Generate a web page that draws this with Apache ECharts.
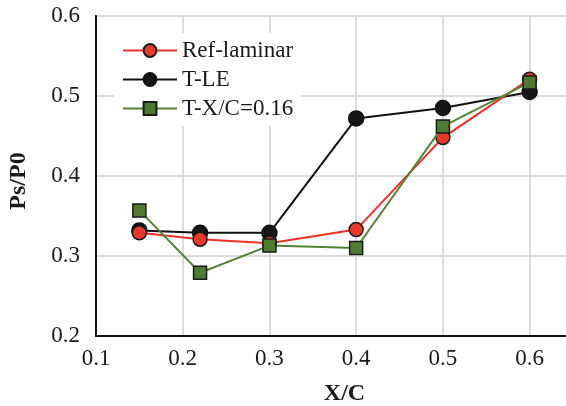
<!DOCTYPE html>
<html>
<head>
<meta charset="utf-8">
<script src="https://cdn.jsdelivr.net/npm/echarts@6/dist/echarts.min.js"></script>
<style>
	html, body { margin: 0; padding: 0; background: #fff; }
	#chart { width: 566px; height: 406px; }
</style>
</head>
<body>
<div id="chart"></div>
<script>
// data
var seriesNames = ['Ref-laminar', 'T-LE', 'T-X/C=0.16'];
var xRef = [0.15, 0.22, 0.30, 0.40, 0.50, 0.60];
var refLaminar = [0.329, 0.321, 0.316, 0.333, 0.448, 0.521];
var tLE = [0.332, 0.329, 0.329, 0.472, 0.485, 0.505];
var tXC = [0.357, 0.279, 0.313, 0.310, 0.462, 0.517];
var xTicks = [0.1, 0.2, 0.3, 0.4, 0.5, 0.6];
var yTicks = [0.2, 0.3, 0.4, 0.5, 0.6];

function pairs(xs, ys) {
	return xs.map(function (x, i) { return [x, ys[i]]; });
}

function tickText(list) {
	return function (v) {
		var t = list.find(function (k) { return Math.abs(k - v) < 1e-6; });
		return t === undefined ? '' : t.toFixed(1);
	};
}

var font = 'Liberation Serif';
var myChart = echarts.init(document.getElementById('chart'));

var option = {
	animation: false,
	textStyle: { fontFamily: font },
	grid: {
		left: 96,
		top: 16,
		width: 477,
		bottom: 70,
		outerBoundsMode: 'none',
		containLabel: false,
		show: true,
		borderColor: '#111',
		borderWidth: 2
	},
	legend: {
		left: 114,
		top: 33,
		orient: 'vertical',
		backgroundColor: '#fff',
		padding: [6, 8, 6, 8],
		itemGap: 6,
		itemWidth: 54,
		itemHeight: 16,
		textStyle: { fontFamily: font, fontSize: 23, color: '#1a1a1a' },
		data: seriesNames
	},
	xAxis: {
		type: 'value',
		min: 0.1,
		max: 0.65,
		interval: 0.1,
		name: 'X/C',
		nameLocation: 'middle',
		nameGap: 46,
		nameTextStyle: { fontFamily: font, fontSize: 24, fontWeight: 'bold', color: '#1a1a1a', padding: [0, 0, 0, 20] },
		axisLine: { lineStyle: { color: '#111', width: 2 } },
		axisTick: { show: false },
		axisLabel: {
			margin: 11,
			fontFamily: font,
			fontSize: 23,
			color: '#1a1a1a',
			formatter: tickText(xTicks)
		},
		splitLine: { lineStyle: { color: '#dcdcdc', width: 2 } }
	},
	yAxis: {
		type: 'value',
		min: 0.2,
		max: 0.6,
		interval: 0.1,
		name: 'Ps/P0',
		nameLocation: 'middle',
		nameGap: 65,
		nameTextStyle: { fontFamily: font, fontSize: 24, fontWeight: 'bold', color: '#1a1a1a', padding: [0, 10, 0, 0] },
		axisLine: { show: true, lineStyle: { color: '#111', width: 2 } },
		axisTick: { show: false },
		axisLabel: {
			margin: 16,
			fontFamily: font,
			fontSize: 23,
			color: '#1a1a1a',
			formatter: tickText(yTicks)
		},
		splitLine: { lineStyle: { color: '#dcdcdc', width: 2 } }
	},
	series: [{
			name: seriesNames[0],
			type: 'line',
			data: pairs(xRef, refLaminar),
			symbol: 'circle',
			symbolSize: 14,
			z: 3,
			lineStyle: { color: '#ee3124', width: 2 },
			itemStyle: { color: '#e8392b', borderColor: '#1a1a1a', borderWidth: 1.5 }
		},
		{
			name: seriesNames[1],
			type: 'line',
			data: pairs(xRef, tLE),
			symbol: 'circle',
			symbolSize: 15,
			z: 2,
			lineStyle: { color: '#111', width: 2 },
			itemStyle: { color: '#161616', borderColor: '#111', borderWidth: 1.5 }
		},
		{
			name: seriesNames[2],
			type: 'line',
			data: pairs(xRef, tXC),
			symbol: 'rect',
			symbolSize: 13,
			z: 4,
			lineStyle: { color: '#548235', width: 2 },
			itemStyle: { color: '#4f7a31', borderColor: '#1a1a1a', borderWidth: 1.5 }
		}
	]
};

myChart.setOption(option);
</script>
</body>
</html>
